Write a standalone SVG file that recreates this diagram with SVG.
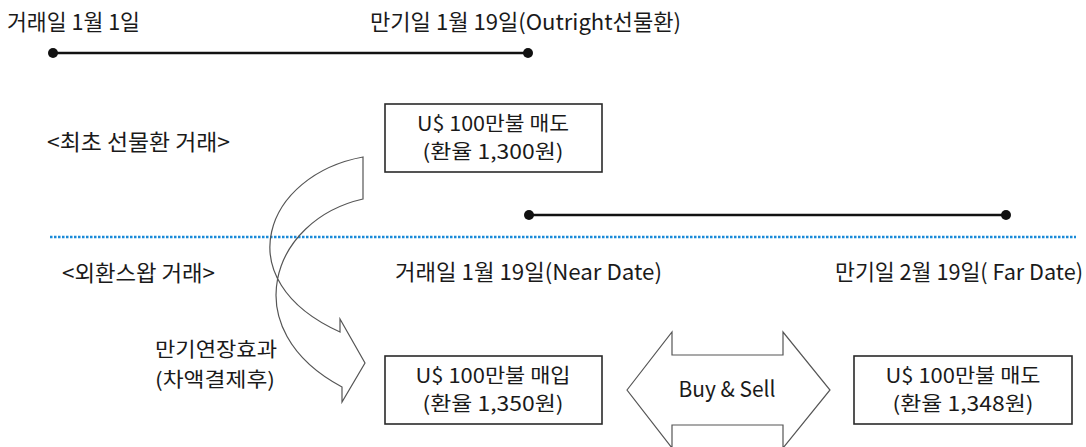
<svg xmlns="http://www.w3.org/2000/svg" width="1086" height="447" viewBox="0 0 1086 447">
<style>
text{font-family:"Noto Sans CJK KR","Noto Sans",sans-serif;font-size:22px;fill:#1a1a1a}
.mid{text-anchor:middle}
.bt{font-size:20px}
.box{fill:#fff;stroke:#2a2a2a;stroke-width:1.6}
.tl{stroke:#111;stroke-width:2.5}
.dot{fill:#111}
.shape{fill:none;stroke:#555;stroke-width:1.2;stroke-linejoin:miter}
.dash{stroke:#1a8ad8;stroke-width:2.6;stroke-dasharray:2.5 1.5}
</style>
<rect width="1086" height="447" fill="#fff"/>
<g id="connectors">
<line class="dash" x1="50" y1="237" x2="1076" y2="237"/>
<g id="timeline1"><line class="tl" x1="53" y1="53" x2="528" y2="53"/><circle class="dot" cx="53" cy="53" r="5"/><circle class="dot" cx="528" cy="53" r="5"/></g>
<g id="timeline2"><line class="tl" x1="529" y1="215" x2="1006" y2="215"/><circle class="dot" cx="529" cy="215" r="5"/><circle class="dot" cx="1006" cy="215" r="5"/></g>
<path id="curved-arrow" class="shape" d="M363,157 L363,199 C270,220 235,330 342,387 L342,402 L365,363 L340,319 L340,332 C225,280 265,175 363,157 Z"/>
<path id="double-arrow" class="shape" fill="#fff" d="M627,390 L672,332 L672,355 L783,355 L783,332 L830,390 L783,448 L783,425 L672,425 L672,448 Z"/>
</g>
<g id="labels">
<text x="7" y="30" textLength="133" lengthAdjust="spacingAndGlyphs">거래일 1월 1일</text>
<text x="370" y="30" textLength="311" lengthAdjust="spacingAndGlyphs">만기일 1월 19일(Outright선물환)</text>
<text x="47" y="150" textLength="183" lengthAdjust="spacingAndGlyphs">&lt;최초 선물환 거래&gt;</text>
<text x="62" y="281" textLength="153" lengthAdjust="spacingAndGlyphs">&lt;외환스왑 거래&gt;</text>
<text x="395" y="280" textLength="267" lengthAdjust="spacingAndGlyphs">거래일 1월 19일(Near Date)</text>
<text x="835" y="280" textLength="248" lengthAdjust="spacingAndGlyphs">만기일 2월 19일( Far Date)</text>
<text class="bt" x="155" y="357" textLength="122" lengthAdjust="spacingAndGlyphs">만기연장효과</text>
<text class="bt" x="155" y="387" textLength="120" lengthAdjust="spacingAndGlyphs">(차액결제후)</text>
<text class="mid" x="727" y="397" textLength="97" lengthAdjust="spacingAndGlyphs">Buy &amp; Sell</text>
</g>
<g id="box1"><rect class="box" x="385" y="104" width="217" height="68"/>
<text class="mid bt" x="493" y="131" textLength="152" lengthAdjust="spacingAndGlyphs">U$ 100만불 매도</text>
<text class="mid bt" x="493" y="159" textLength="141" lengthAdjust="spacingAndGlyphs">(환율 1,300원)</text></g>
<g id="box2"><rect class="box" x="385" y="356" width="217" height="68"/>
<text class="mid bt" x="493" y="383" textLength="155" lengthAdjust="spacingAndGlyphs">U$ 100만불 매입</text>
<text class="mid bt" x="493" y="411" textLength="141" lengthAdjust="spacingAndGlyphs">(환율 1,350원)</text></g>
<g id="box3"><rect class="box" x="854" y="356" width="218" height="68"/>
<text class="mid bt" x="963" y="383" textLength="155" lengthAdjust="spacingAndGlyphs">U$ 100만불 매도</text>
<text class="mid bt" x="963" y="411" textLength="141" lengthAdjust="spacingAndGlyphs">(환율 1,348원)</text></g>
</svg>
